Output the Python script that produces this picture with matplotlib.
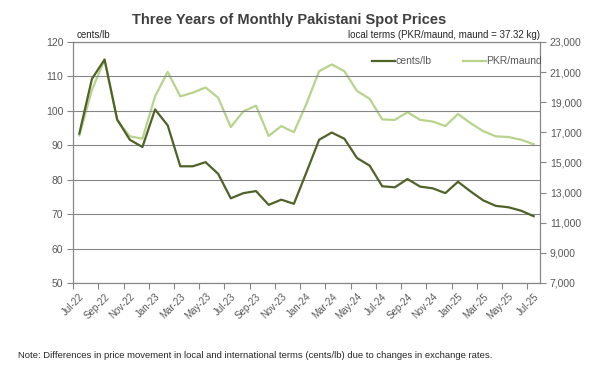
import numpy as np
import matplotlib.pyplot as plt
from matplotlib.ticker import FuncFormatter
from matplotlib.transforms import ScaledTranslation

plt.rcParams['font.family'] = ['Liberation Sans', 'DejaVu Sans']

# months Jul-22 .. Jul-25
months = ['Jul-22', 'Aug-22', 'Sep-22', 'Oct-22', 'Nov-22', 'Dec-22',
          'Jan-23', 'Feb-23', 'Mar-23', 'Apr-23', 'May-23', 'Jun-23',
          'Jul-23', 'Aug-23', 'Sep-23', 'Oct-23', 'Nov-23', 'Dec-23',
          'Jan-24', 'Feb-24', 'Mar-24', 'Apr-24', 'May-24', 'Jun-24',
          'Jul-24', 'Aug-24', 'Sep-24', 'Oct-24', 'Nov-24', 'Dec-24',
          'Jan-25', 'Feb-25', 'Mar-25', 'Apr-25', 'May-25', 'Jun-25',
          'Jul-25']

cents_lb = [93.4, 109.3, 114.9, 97.5, 91.6, 89.5, 100.4, 95.8, 83.9, 83.9,
            85.1, 81.7, 74.6, 76.1, 76.7, 72.7, 74.2, 73.0, 82.2, 91.6,
            93.7, 91.9, 86.3, 84.1, 78.1, 77.8, 80.2, 78.0, 77.5, 76.1,
            79.4, 76.6, 74.0, 72.4, 72.0, 71.0, 69.4]

pkr_maund = [16800, 19820, 21830, 17790, 16740, 16580, 19390, 21010, 19390,
             19640, 19980, 19300, 17350, 18400, 18770, 16760, 17420, 17010,
             18910, 21060, 21510, 21060, 19750, 19230, 17860, 17830, 18340,
             17830, 17720, 17420, 18220, 17610, 17080, 16740, 16690, 16510,
             16210]

dark = '#4f6228'
light = '#b7d38c'
grid_c = '#868686'
txt_c = '#595959'

x = np.arange(len(months))

fig = plt.figure(figsize=(5.99, 3.71), dpi=100)
ax = fig.add_axes([0.1219, 0.2372, 0.9015 - 0.1219, 0.8868 - 0.2372])
ax2 = ax.twinx()

l1, = ax.plot(x, cents_lb, color=dark, lw=1.6, label='cents/lb', zorder=3)
l2, = ax2.plot(x, pkr_maund, color=light, lw=1.6, label='PKR/maund', zorder=2)
ax.set_zorder(ax2.get_zorder() + 1)
ax.patch.set_visible(False)

ax.set_xlim(-0.5, len(months) - 0.5)
ax.set_ylim(50, 120)
ax.set_yticks(np.arange(50, 121, 10))
ax2.set_ylim(7000, 23000)
ax2.set_yticks(np.arange(7000, 23001, 2000))
ax2.yaxis.set_major_formatter(FuncFormatter(lambda v, p: f'{int(v):,}'))

ax.grid(axis='y', color=grid_c, lw=0.8)
ax.set_axisbelow(True)

ax.set_xticks(x[::2])
ax.set_xticklabels(months[::2], rotation=45, ha='right', rotation_mode='anchor',
                   fontsize=7, color=txt_c)
shift = ScaledTranslation(-0.045, 0, fig.dpi_scale_trans)
for lab in ax.get_xticklabels():
    lab.set_transform(lab.get_transform() + shift)
ax.set_xticks(np.arange(-0.5, len(months), 2), minor=True)
ax.tick_params(axis='x', which='major', length=0, pad=6)
ax.tick_params(axis='x', which='minor', length=4, color=grid_c, width=0.8)
ax.tick_params(axis='y', length=4, color=grid_c, width=0.8, labelsize=7.5,
               labelcolor=txt_c, pad=3)
ax2.tick_params(axis='y', length=4, color=grid_c, width=0.8, labelsize=7.5,
                labelcolor=txt_c, pad=3)

for a in (ax, ax2):
    for s in a.spines.values():
        s.set_color(grid_c)
        s.set_linewidth(0.8)

fig.text(0.482, 0.945, 'Three Years of Monthly Pakistani Spot Prices',
         ha='center', va='center', fontsize=10.5, fontweight='bold', color='#404040')
fig.text(0.128, 0.893, 'cents/lb', ha='left', va='bottom', fontsize=7, color='#262626')
fig.text(0.902, 0.893, 'local terms (PKR/maund, maund = 37.32 kg)', ha='right',
         va='bottom', fontsize=7, color='#262626')

ax.legend(handles=[l1, l2], loc='upper right', bbox_to_anchor=(1.025, 0.98),
          ncol=2, frameon=False, fontsize=7.5, handlelength=2.2,
          handletextpad=0.05, columnspacing=3.0, labelcolor=txt_c)

fig.text(0.03, 0.043, 'Note: Differences in price movement in local and international '
         'terms (cents/lb) due to changes in exchange rates.',
         ha='left', va='center', fontsize=6.8, color='#262626')

fig.savefig('out.png', dpi=100)
